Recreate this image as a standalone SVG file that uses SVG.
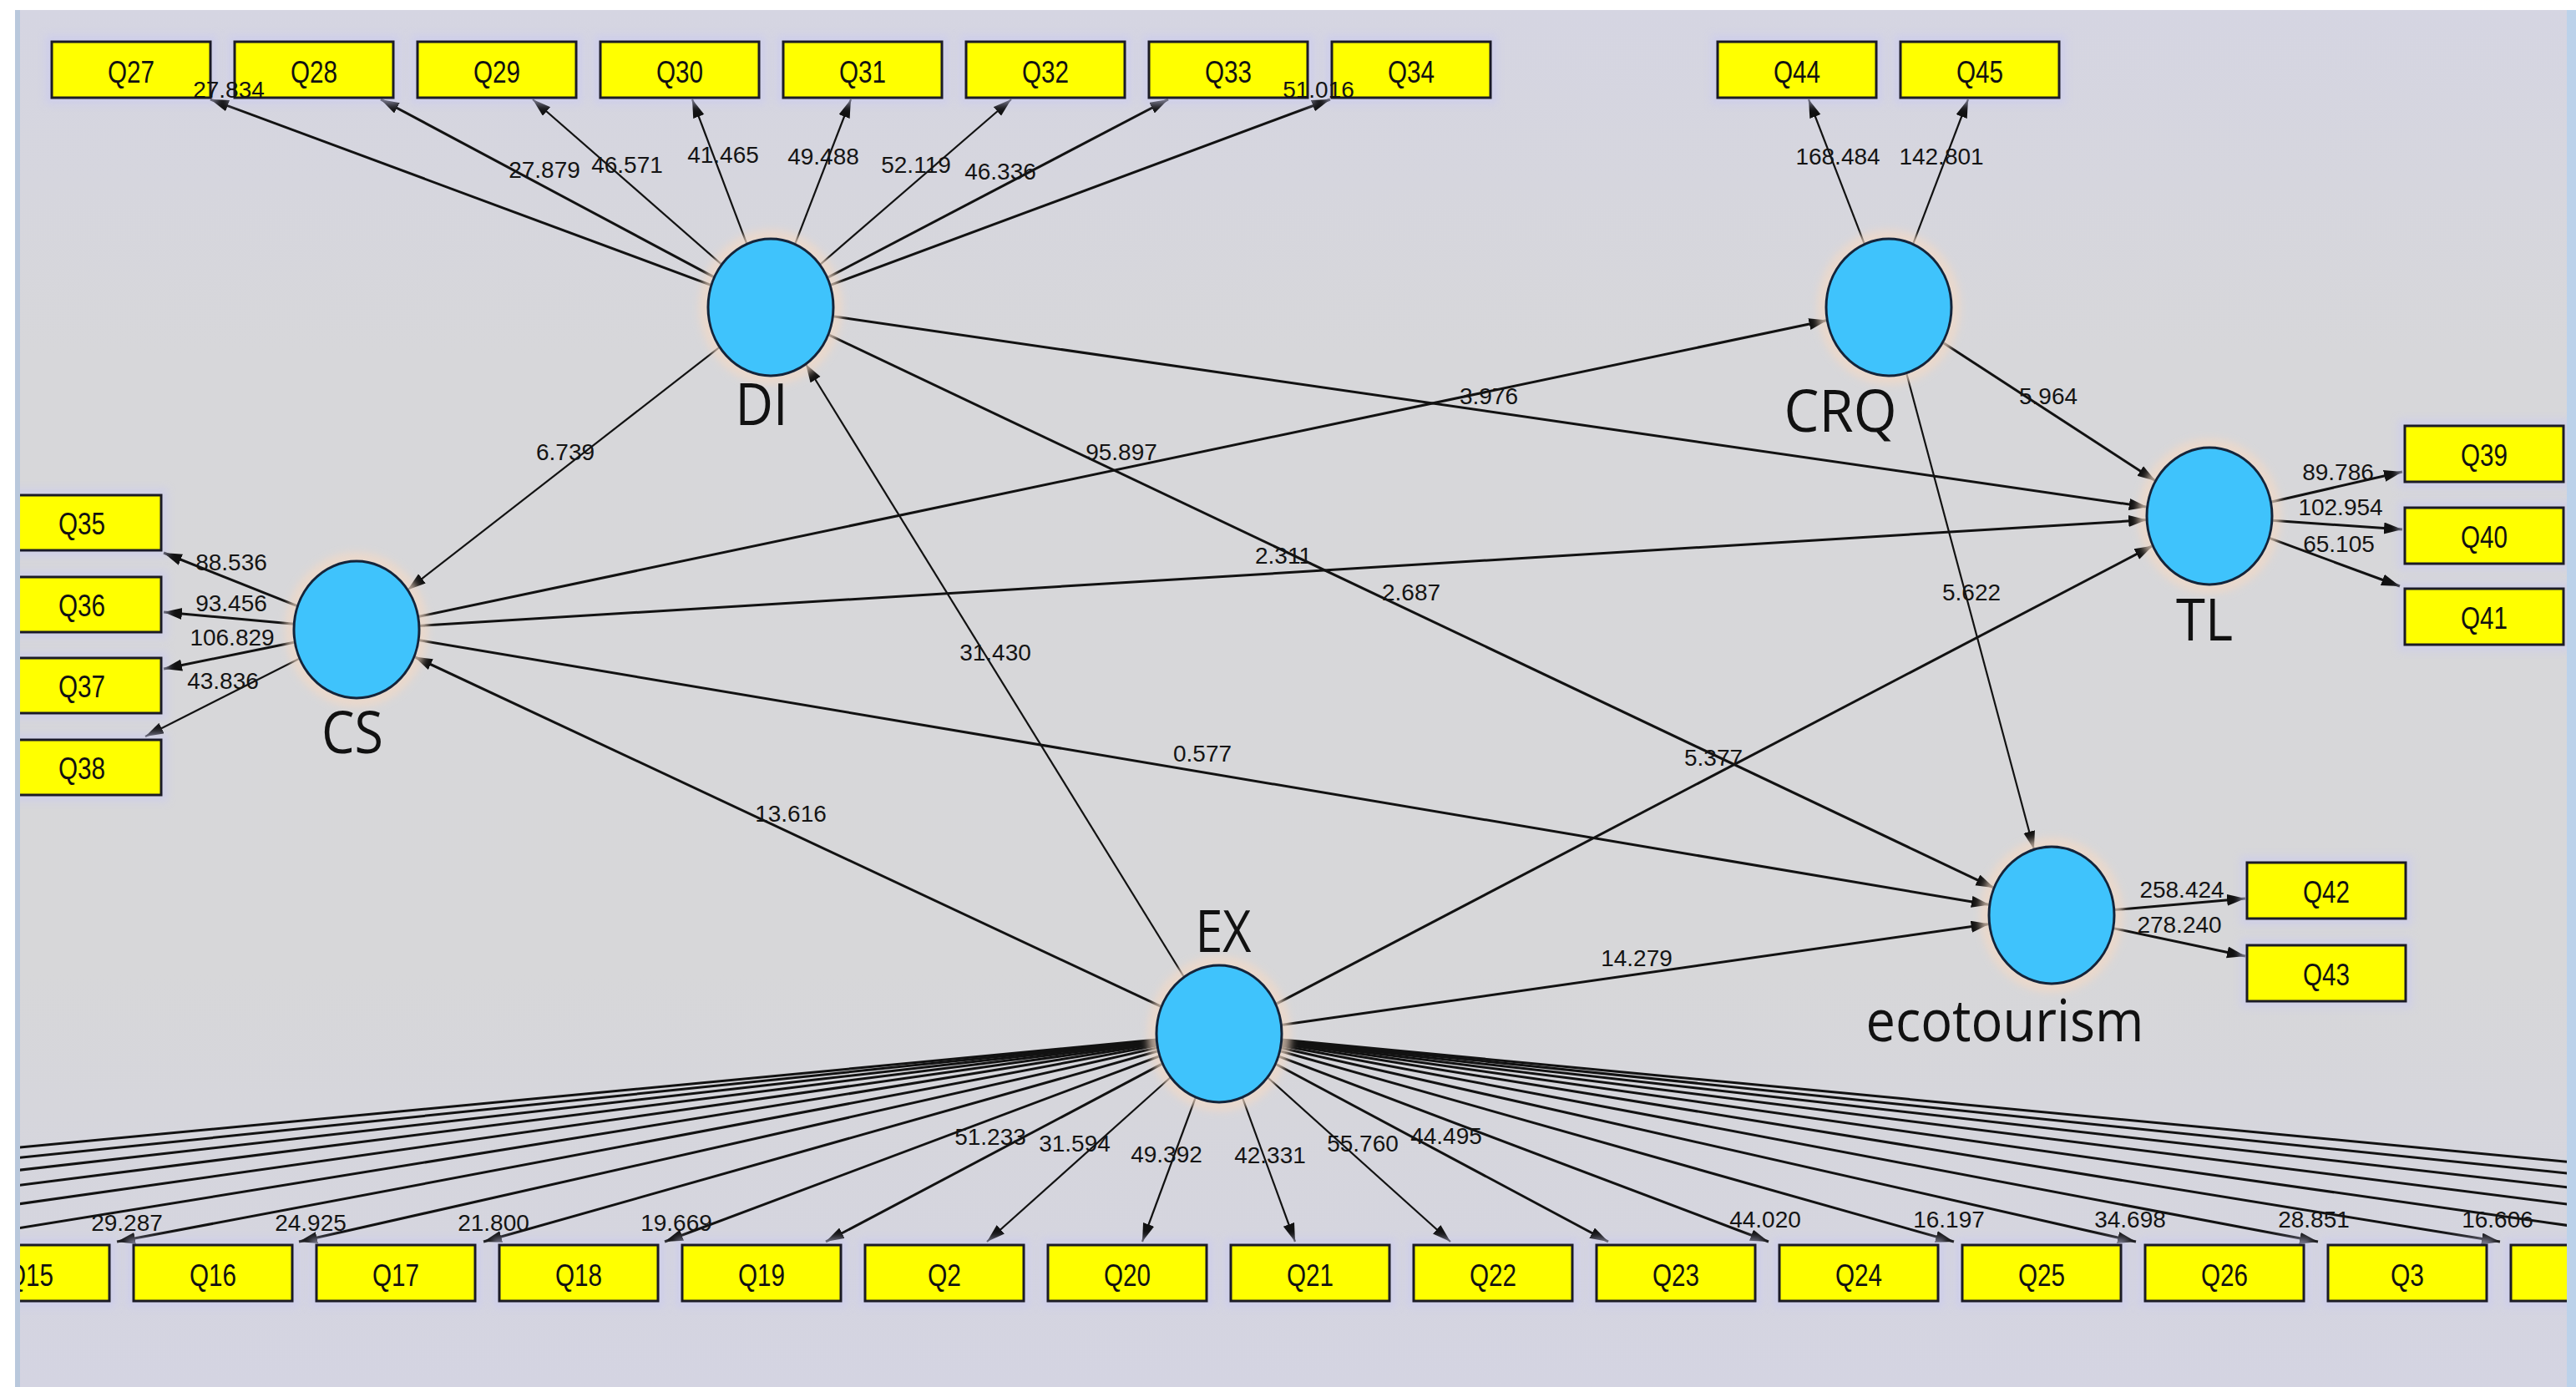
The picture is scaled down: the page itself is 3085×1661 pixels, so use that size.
<svg xmlns="http://www.w3.org/2000/svg" width="3085" height="1661" viewBox="0 0 3085 1661">
<defs>
<style>
.box{fill:#ffff00;stroke:#1b1b26;stroke-width:3}
.halo{fill:#cacaf0;opacity:.6}
.lv{fill:#3fc3fc;stroke:#14243a;stroke-width:3}
.glow{fill:#f2d9c6;opacity:.7}
.bt{font-family:"Liberation Sans",Arial,sans-serif;font-size:37px;text-anchor:middle;fill:#111}
.num{font-family:"Liberation Sans",Arial,sans-serif;font-size:28px;text-anchor:middle;fill:#141414}
.nl{font-family:"Open Sans","Noto Sans",sans-serif;font-size:70px;text-anchor:middle;fill:#111}
.c{stroke:#121212;stroke-width:3;fill:none;marker-end:url(#ah)}
.t{stroke:#121212;stroke-width:2.2;fill:none;marker-end:url(#ah)}
</style>
<marker id="ah" markerUnits="userSpaceOnUse" markerWidth="24" markerHeight="16" refX="22" refY="7" orient="auto"><path d="M0,0 L22,7 L0,14 z" fill="#111"/></marker>
<filter id="blur" x="-20%" y="-20%" width="140%" height="140%"><feGaussianBlur stdDeviation="5"/></filter>
<linearGradient id="bg" x1="0" y1="0" x2="0" y2="1">
<stop offset="0" stop-color="#d5d5e2"/><stop offset="0.25" stop-color="#d7d7da"/><stop offset="0.7" stop-color="#d7d7d9"/><stop offset="1" stop-color="#d4d4e2"/>
</linearGradient>
<clipPath id="panel"><rect x="24" y="12" width="3050" height="1649"/></clipPath>
</defs>
<rect x="0" y="0" width="3085" height="1661" fill="#ffffff"/>
<rect x="18" y="12" width="3067" height="1649" fill="url(#bg)"/>
<rect x="18" y="12" width="6" height="1649" fill="#b9c8dc"/>
<rect x="3074" y="12" width="11" height="1649" fill="#bcd2ea"/>
<g clip-path="url(#panel)">
<g id="connectors">
<path class="t" d="M861.9,415.6 L488.1,706.4"/>
<path class="c" d="M997.3,378.8 L2571.7,607.2"/>
<path class="c" d="M991.8,400.7 L2388.2,1063.3"/>
<path class="c" d="M500.6,738.5 L2188.4,383.5"/>
<path class="c" d="M501.9,749.4 L2571.1,622.6"/>
<path class="c" d="M501.1,766.5 L2382.9,1083.5"/>
<path class="c" d="M1391.1,1205.7 L495.9,786.3"/>
<path class="t" d="M1418,1170 L965,436"/>
<path class="c" d="M1527.7,1202.6 L2578.3,653.4"/>
<path class="c" d="M1534.4,1227.4 L2382.6,1106.6"/>
<path class="c" d="M2326.4,410 L2581.6,576"/>
<path class="t" d="M2283.1,446.7 L2435.9,1017.3"/>
<path class="c" d="M852,341.6 L252,119"/>
<path class="c" d="M855.6,332.1 L456,119"/>
<path class="t" d="M864.4,316.8 L638,119"/>
<path class="t" d="M894.4,292.2 L829,119"/>
<path class="t" d="M952.1,292.4 L1019,119"/>
<path class="t" d="M981.8,317.1 L1211,119"/>
<path class="c" d="M990.7,332.6 L1399,119"/>
<path class="c" d="M994,341.6 L1593,119"/>
<path class="t" d="M2232.9,292.4 L2166,119"/>
<path class="t" d="M2291,292.4 L2357,119"/>
<path class="c" d="M356.5,725.9 L196,662"/>
<path class="c" d="M352.3,747.2 L196,733"/>
<path class="c" d="M353.3,769 L196,801"/>
<path class="t" d="M358.9,788.4 L174,882"/>
<path class="c" d="M2719.4,601.2 L2877,565"/>
<path class="c" d="M2720.9,623.2 L2877,634"/>
<path class="c" d="M2717.1,644.2 L2874,702"/>
<path class="c" d="M2531.8,1089.6 L2689,1076"/>
<path class="c" d="M2530.6,1111.6 L2689,1145"/>
<path class="c" d="M1385.3,1245.1 L-1168,1487"/>
<path class="c" d="M1385.3,1245.7 L-950,1487"/>
<path class="c" d="M1385.4,1246.5 L-732,1487"/>
<path class="c" d="M1385.5,1247.4 L-514,1487"/>
<path class="c" d="M1385.6,1248.5 L-296,1487"/>
<path class="c" d="M1385.8,1250 L-78,1487"/>
<path class="c" d="M1386.1,1251.9 L140,1487"/>
<path class="c" d="M1386.6,1254.6 L358,1487"/>
<path class="c" d="M1387.4,1258.5 L579,1487"/>
<path class="c" d="M1389.1,1264.6 L796,1487"/>
<path class="c" d="M1392.5,1273.7 L989,1487"/>
<path class="t" d="M1402,1290 L1182,1487"/>
<path class="t" d="M1431.9,1314 L1368,1487"/>
<path class="t" d="M1487.8,1314.1 L1551,1487"/>
<path class="t" d="M1517.9,1290.1 L1737,1487"/>
<path class="c" d="M1527.4,1274 L1926,1487"/>
<path class="c" d="M1530.9,1264.8 L2118,1487"/>
<path class="c" d="M1532.6,1258.5 L2340,1487"/>
<path class="c" d="M1533.4,1254.7 L2558,1487"/>
<path class="c" d="M1533.9,1252 L2776,1487"/>
<path class="c" d="M1534.2,1250 L2994,1487"/>
<path class="c" d="M1534.4,1248.6 L3212,1487"/>
<path class="c" d="M1534.5,1247.4 L3430,1487"/>
<path class="c" d="M1534.6,1246.5 L3648,1487"/>
<path class="c" d="M1534.7,1245.7 L3866,1487"/>
<path class="c" d="M1534.7,1245.1 L4084,1487"/>
</g>
<g id="DI"><ellipse class="glow" cx="923" cy="368" rx="86" ry="93" filter="url(#blur)"/><ellipse class="lv" cx="923" cy="368" rx="75" ry="82"/><text class="nl" x="912" y="509" textLength="63" lengthAdjust="spacingAndGlyphs">DI</text></g>
<g id="CRQ"><ellipse class="glow" cx="2262" cy="368" rx="86" ry="93" filter="url(#blur)"/><ellipse class="lv" cx="2262" cy="368" rx="75" ry="82"/><text class="nl" x="2204" y="517" textLength="135" lengthAdjust="spacingAndGlyphs">CRQ</text></g>
<g id="CS"><ellipse class="glow" cx="427" cy="754" rx="86" ry="93" filter="url(#blur)"/><ellipse class="lv" cx="427" cy="754" rx="75" ry="82"/><text class="nl" x="422" y="902" textLength="74" lengthAdjust="spacingAndGlyphs">CS</text></g>
<g id="TL"><ellipse class="glow" cx="2646" cy="618" rx="86" ry="93" filter="url(#blur)"/><ellipse class="lv" cx="2646" cy="618" rx="75" ry="82"/><text class="nl" x="2640" y="767" textLength="68" lengthAdjust="spacingAndGlyphs">TL</text></g>
<g id="ecotourism"><ellipse class="glow" cx="2457" cy="1096" rx="86" ry="93" filter="url(#blur)"/><ellipse class="lv" cx="2457" cy="1096" rx="75" ry="82"/><text class="nl" x="2401" y="1247" textLength="333" lengthAdjust="spacingAndGlyphs">ecotourism</text></g>
<g id="EX"><ellipse class="glow" cx="1460" cy="1238" rx="86" ry="93" filter="url(#blur)"/><ellipse class="lv" cx="1460" cy="1238" rx="75" ry="82"/><text class="nl" x="1465" y="1140" textLength="67" lengthAdjust="spacingAndGlyphs">EX</text></g>
<g id="Q27"><rect class="halo" x="54" y="42" width="206" height="83" filter="url(#blur)"/><rect class="box" x="62" y="50" width="190" height="67"/><text class="bt" x="157" y="99" textLength="56" lengthAdjust="spacingAndGlyphs">Q27</text></g>
<g id="Q28"><rect class="halo" x="273" y="42" width="206" height="83" filter="url(#blur)"/><rect class="box" x="281" y="50" width="190" height="67"/><text class="bt" x="376" y="99" textLength="56" lengthAdjust="spacingAndGlyphs">Q28</text></g>
<g id="Q29"><rect class="halo" x="492" y="42" width="206" height="83" filter="url(#blur)"/><rect class="box" x="500" y="50" width="190" height="67"/><text class="bt" x="595" y="99" textLength="56" lengthAdjust="spacingAndGlyphs">Q29</text></g>
<g id="Q30"><rect class="halo" x="711" y="42" width="206" height="83" filter="url(#blur)"/><rect class="box" x="719" y="50" width="190" height="67"/><text class="bt" x="814" y="99" textLength="56" lengthAdjust="spacingAndGlyphs">Q30</text></g>
<g id="Q31"><rect class="halo" x="930" y="42" width="206" height="83" filter="url(#blur)"/><rect class="box" x="938" y="50" width="190" height="67"/><text class="bt" x="1033" y="99" textLength="56" lengthAdjust="spacingAndGlyphs">Q31</text></g>
<g id="Q32"><rect class="halo" x="1149" y="42" width="206" height="83" filter="url(#blur)"/><rect class="box" x="1157" y="50" width="190" height="67"/><text class="bt" x="1252" y="99" textLength="56" lengthAdjust="spacingAndGlyphs">Q32</text></g>
<g id="Q33"><rect class="halo" x="1368" y="42" width="206" height="83" filter="url(#blur)"/><rect class="box" x="1376" y="50" width="190" height="67"/><text class="bt" x="1471" y="99" textLength="56" lengthAdjust="spacingAndGlyphs">Q33</text></g>
<g id="Q34"><rect class="halo" x="1587" y="42" width="206" height="83" filter="url(#blur)"/><rect class="box" x="1595" y="50" width="190" height="67"/><text class="bt" x="1690" y="99" textLength="56" lengthAdjust="spacingAndGlyphs">Q34</text></g>
<g id="Q44"><rect class="halo" x="2049" y="42" width="206" height="83" filter="url(#blur)"/><rect class="box" x="2057" y="50" width="190" height="67"/><text class="bt" x="2152" y="99" textLength="56" lengthAdjust="spacingAndGlyphs">Q44</text></g>
<g id="Q45"><rect class="halo" x="2268" y="42" width="206" height="83" filter="url(#blur)"/><rect class="box" x="2276" y="50" width="190" height="67"/><text class="bt" x="2371" y="99" textLength="56" lengthAdjust="spacingAndGlyphs">Q45</text></g>
<g id="Q35"><rect class="halo" x="-5" y="585" width="206" height="82" filter="url(#blur)"/><rect class="box" x="3" y="593" width="190" height="66"/><text class="bt" x="98" y="640" textLength="56" lengthAdjust="spacingAndGlyphs">Q35</text></g>
<g id="Q36"><rect class="halo" x="-5" y="683" width="206" height="82" filter="url(#blur)"/><rect class="box" x="3" y="691" width="190" height="66"/><text class="bt" x="98" y="738" textLength="56" lengthAdjust="spacingAndGlyphs">Q36</text></g>
<g id="Q37"><rect class="halo" x="-5" y="780" width="206" height="82" filter="url(#blur)"/><rect class="box" x="3" y="788" width="190" height="66"/><text class="bt" x="98" y="835" textLength="56" lengthAdjust="spacingAndGlyphs">Q37</text></g>
<g id="Q38"><rect class="halo" x="-5" y="878" width="206" height="82" filter="url(#blur)"/><rect class="box" x="3" y="886" width="190" height="66"/><text class="bt" x="98" y="933" textLength="56" lengthAdjust="spacingAndGlyphs">Q38</text></g>
<g id="Q39"><rect class="halo" x="2872" y="502" width="206" height="83" filter="url(#blur)"/><rect class="box" x="2880" y="510" width="190" height="67"/><text class="bt" x="2975" y="558" textLength="56" lengthAdjust="spacingAndGlyphs">Q39</text></g>
<g id="Q40"><rect class="halo" x="2872" y="600" width="206" height="83" filter="url(#blur)"/><rect class="box" x="2880" y="608" width="190" height="67"/><text class="bt" x="2975" y="656" textLength="56" lengthAdjust="spacingAndGlyphs">Q40</text></g>
<g id="Q41"><rect class="halo" x="2872" y="697" width="206" height="83" filter="url(#blur)"/><rect class="box" x="2880" y="705" width="190" height="67"/><text class="bt" x="2975" y="753" textLength="56" lengthAdjust="spacingAndGlyphs">Q41</text></g>
<g id="Q42"><rect class="halo" x="2683" y="1025" width="206" height="83" filter="url(#blur)"/><rect class="box" x="2691" y="1033" width="190" height="67"/><text class="bt" x="2786" y="1081" textLength="56" lengthAdjust="spacingAndGlyphs">Q42</text></g>
<g id="Q43"><rect class="halo" x="2683" y="1124" width="206" height="83" filter="url(#blur)"/><rect class="box" x="2691" y="1132" width="190" height="67"/><text class="bt" x="2786" y="1180" textLength="56" lengthAdjust="spacingAndGlyphs">Q43</text></g>
<g id="Q15"><rect class="halo" x="-67" y="1483" width="206" height="83" filter="url(#blur)"/><rect class="box" x="-59" y="1491" width="190" height="67"/><text class="bt" x="36" y="1540" textLength="56" lengthAdjust="spacingAndGlyphs">Q15</text></g>
<g id="Q16"><rect class="halo" x="152" y="1483" width="206" height="83" filter="url(#blur)"/><rect class="box" x="160" y="1491" width="190" height="67"/><text class="bt" x="255" y="1540" textLength="56" lengthAdjust="spacingAndGlyphs">Q16</text></g>
<g id="Q17"><rect class="halo" x="371" y="1483" width="206" height="83" filter="url(#blur)"/><rect class="box" x="379" y="1491" width="190" height="67"/><text class="bt" x="474" y="1540" textLength="56" lengthAdjust="spacingAndGlyphs">Q17</text></g>
<g id="Q18"><rect class="halo" x="590" y="1483" width="206" height="83" filter="url(#blur)"/><rect class="box" x="598" y="1491" width="190" height="67"/><text class="bt" x="693" y="1540" textLength="56" lengthAdjust="spacingAndGlyphs">Q18</text></g>
<g id="Q19"><rect class="halo" x="809" y="1483" width="206" height="83" filter="url(#blur)"/><rect class="box" x="817" y="1491" width="190" height="67"/><text class="bt" x="912" y="1540" textLength="56" lengthAdjust="spacingAndGlyphs">Q19</text></g>
<g id="Q2"><rect class="halo" x="1028" y="1483" width="206" height="83" filter="url(#blur)"/><rect class="box" x="1036" y="1491" width="190" height="67"/><text class="bt" x="1131" y="1540" textLength="40" lengthAdjust="spacingAndGlyphs">Q2</text></g>
<g id="Q20"><rect class="halo" x="1247" y="1483" width="206" height="83" filter="url(#blur)"/><rect class="box" x="1255" y="1491" width="190" height="67"/><text class="bt" x="1350" y="1540" textLength="56" lengthAdjust="spacingAndGlyphs">Q20</text></g>
<g id="Q21"><rect class="halo" x="1466" y="1483" width="206" height="83" filter="url(#blur)"/><rect class="box" x="1474" y="1491" width="190" height="67"/><text class="bt" x="1569" y="1540" textLength="56" lengthAdjust="spacingAndGlyphs">Q21</text></g>
<g id="Q22"><rect class="halo" x="1685" y="1483" width="206" height="83" filter="url(#blur)"/><rect class="box" x="1693" y="1491" width="190" height="67"/><text class="bt" x="1788" y="1540" textLength="56" lengthAdjust="spacingAndGlyphs">Q22</text></g>
<g id="Q23"><rect class="halo" x="1904" y="1483" width="206" height="83" filter="url(#blur)"/><rect class="box" x="1912" y="1491" width="190" height="67"/><text class="bt" x="2007" y="1540" textLength="56" lengthAdjust="spacingAndGlyphs">Q23</text></g>
<g id="Q24"><rect class="halo" x="2123" y="1483" width="206" height="83" filter="url(#blur)"/><rect class="box" x="2131" y="1491" width="190" height="67"/><text class="bt" x="2226" y="1540" textLength="56" lengthAdjust="spacingAndGlyphs">Q24</text></g>
<g id="Q25"><rect class="halo" x="2342" y="1483" width="206" height="83" filter="url(#blur)"/><rect class="box" x="2350" y="1491" width="190" height="67"/><text class="bt" x="2445" y="1540" textLength="56" lengthAdjust="spacingAndGlyphs">Q25</text></g>
<g id="Q26"><rect class="halo" x="2561" y="1483" width="206" height="83" filter="url(#blur)"/><rect class="box" x="2569" y="1491" width="190" height="67"/><text class="bt" x="2664" y="1540" textLength="56" lengthAdjust="spacingAndGlyphs">Q26</text></g>
<g id="Q3"><rect class="halo" x="2780" y="1483" width="206" height="83" filter="url(#blur)"/><rect class="box" x="2788" y="1491" width="190" height="67"/><text class="bt" x="2883" y="1540" textLength="40" lengthAdjust="spacingAndGlyphs">Q3</text></g>
<g id="Q4-box"><rect class="halo" x="2999" y="1483" width="206" height="83" filter="url(#blur)"/><rect class="box" x="3007" y="1491" width="190" height="67"/></g>
<g id="path-labels">
<text class="num" x="677" y="551">6.739</text>
<text class="num" x="1343" y="551">95.897</text>
<text class="num" x="1537" y="675">2.311</text>
<text class="num" x="1192" y="791">31.430</text>
<text class="num" x="1440" y="912">0.577</text>
<text class="num" x="947" y="984">13.616</text>
<text class="num" x="1783" y="484">3.976</text>
<text class="num" x="2453" y="484">5.964</text>
<text class="num" x="1690" y="719">2.687</text>
<text class="num" x="2361" y="719">5.622</text>
<text class="num" x="2052" y="917">5.377</text>
<text class="num" x="1960" y="1157">14.279</text>
<text class="num" x="274" y="117">27.834</text>
<text class="num" x="652" y="213">27.879</text>
<text class="num" x="751" y="207">46.571</text>
<text class="num" x="866" y="195">41.465</text>
<text class="num" x="986" y="197">49.488</text>
<text class="num" x="1097" y="207">52.119</text>
<text class="num" x="1198" y="215">46.336</text>
<text class="num" x="1579" y="117">51.016</text>
<text class="num" x="2201" y="197">168.484</text>
<text class="num" x="2325" y="197">142.801</text>
<text class="num" x="277" y="683">88.536</text>
<text class="num" x="277" y="732">93.456</text>
<text class="num" x="278" y="773">106.829</text>
<text class="num" x="267" y="825">43.836</text>
<text class="num" x="2800" y="575">89.786</text>
<text class="num" x="2803" y="617">102.954</text>
<text class="num" x="2801" y="661">65.105</text>
<text class="num" x="2613" y="1075">258.424</text>
<text class="num" x="2610" y="1117">278.240</text>
<text class="num" x="152" y="1474">29.287</text>
<text class="num" x="372" y="1474">24.925</text>
<text class="num" x="591" y="1474">21.800</text>
<text class="num" x="810" y="1474">19.669</text>
<text class="num" x="1186" y="1371">51.233</text>
<text class="num" x="1287" y="1379">31.594</text>
<text class="num" x="1397" y="1392">49.392</text>
<text class="num" x="1521" y="1393">42.331</text>
<text class="num" x="1632" y="1379">55.760</text>
<text class="num" x="1732" y="1370">44.495</text>
<text class="num" x="2114" y="1470">44.020</text>
<text class="num" x="2334" y="1470">16.197</text>
<text class="num" x="2551" y="1470">34.698</text>
<text class="num" x="2771" y="1470">28.851</text>
<text class="num" x="2991" y="1470">16.606</text>
</g>
</g>
</svg>
